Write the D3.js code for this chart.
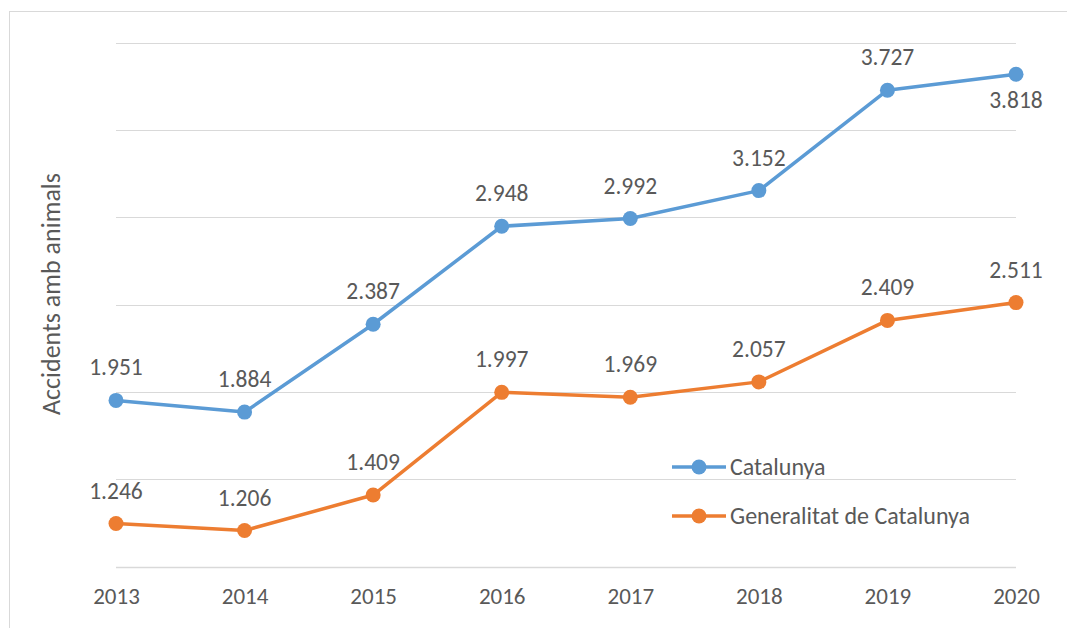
<!DOCTYPE html>
<html>
<head>
<meta charset="utf-8">
<script src="https://cdn.jsdelivr.net/npm/d3@7"></script>
<style>
  body { margin: 0; background: #fff; }
  svg text { font-family: Calibri, Carlito, Lato, sans-serif; fill: #595959; }
</style>
</head>
<body>
<div id="chart"></div>
<script>
var years = ["2013", "2014", "2015", "2016", "2017", "2018", "2019", "2020"];
var catalunya = [1951, 1884, 2387, 2948, 2992, 3152, 3727, 3818];
var generalitat = [1246, 1206, 1409, 1997, 1969, 2057, 2409, 2511];
var seriesNames = ["Catalunya", "Generalitat de Catalunya"];
var seriesColors = ["#5b9bd5", "#ed7d31"];

var width = 1067, height = 628;

// catalan number format: 1.951
var loc = d3.formatLocale({decimal: ",", thousands: ".", grouping: [3], currency: ["", "€"]});
var fmt = loc.format(",d");

var svg = d3.select("#chart").append("svg")
    .attr("width", width)
    .attr("height", height);

// chart area border
svg.append("rect")
    .attr("x", 9.5).attr("y", 11.5)
    .attr("width", 1070).attr("height", 640)
    .attr("fill", "none")
    .attr("stroke", "#d9d9d9")
    .attr("stroke-width", 1);

var x = d3.scalePoint()
    .domain(years)
    .range([116, 1016]);

var y = d3.scaleLinear()
    .domain([1000, 4000])
    .range([566.5, 42.5]);

// gridlines
svg.append("g")
    .selectAll("line")
    .data(y.ticks(6))
    .enter()
    .append("line")
    .attr("x1", 116).attr("x2", 1016)
    .attr("y1", function (d) { return Math.round(y(d)) + 0.5; })
    .attr("y2", function (d) { return Math.round(y(d)) + 0.5; })
    .attr("stroke", "#d9d9d9")
    .attr("stroke-width", function (d) { return d === 1000 ? 1.5 : 1.2; });

// x axis labels
var xAxis = svg.append("g")
    .attr("transform", "translate(0,566)")
    .call(d3.axisBottom(x).tickSize(0).tickPadding(22));
xAxis.select(".domain").remove();
xAxis.selectAll("text")
    .attr("font-size", 23)
    .attr("dy", "0.71em")
    .style("font-family", "Calibri, Carlito, Lato, sans-serif")
    .style("fill", "#595959");

// y axis title
svg.append("text")
    .attr("transform", "translate(60,294) rotate(-90)")
    .attr("text-anchor", "middle")
    .attr("font-size", 26)
    .text("Accidents amb animals");

var line = d3.line()
    .x(function (d, i) { return x(years[i]); })
    .y(function (d) { return y(d); });

var allSeries = [catalunya, generalitat];

allSeries.forEach(function (vals, s) {
    var g = svg.append("g");
    g.append("path")
        .datum(vals)
        .attr("d", line)
        .attr("fill", "none")
        .attr("stroke", seriesColors[s])
        .attr("stroke-width", 3.5)
        .attr("stroke-linejoin", "round");

    g.selectAll("circle")
        .data(vals)
        .enter()
        .append("circle")
        .attr("cx", function (d, i) { return x(years[i]); })
        .attr("cy", function (d) { return y(d); })
        .attr("r", 7.5)
        .attr("fill", seriesColors[s]);

    g.selectAll("text")
        .data(vals)
        .enter()
        .append("text")
        .attr("x", function (d, i) { return x(years[i]); })
        .attr("y", function (d, i) {
            // last blue label sits under the point
            if (s === 0 && i === vals.length - 1) return y(d) + 34;
            return y(d) - 25;
        })
        .attr("text-anchor", "middle")
        .attr("font-size", 23.5)
        .text(function (d) { return fmt(d); });
});

// legend
var legend = svg.append("g");
seriesNames.forEach(function (name, s) {
    var ly = 467 + s * 49;
    legend.append("line")
        .attr("x1", 672).attr("x2", 726)
        .attr("y1", ly).attr("y2", ly)
        .attr("stroke", seriesColors[s])
        .attr("stroke-width", 3.5);
    legend.append("circle")
        .attr("cx", 699).attr("cy", ly)
        .attr("r", 7.5)
        .attr("fill", seriesColors[s]);
    legend.append("text")
        .attr("x", 730).attr("y", ly + 8)
        .attr("font-size", 24)
        .text(name);
});
</script>
</body>
</html>
